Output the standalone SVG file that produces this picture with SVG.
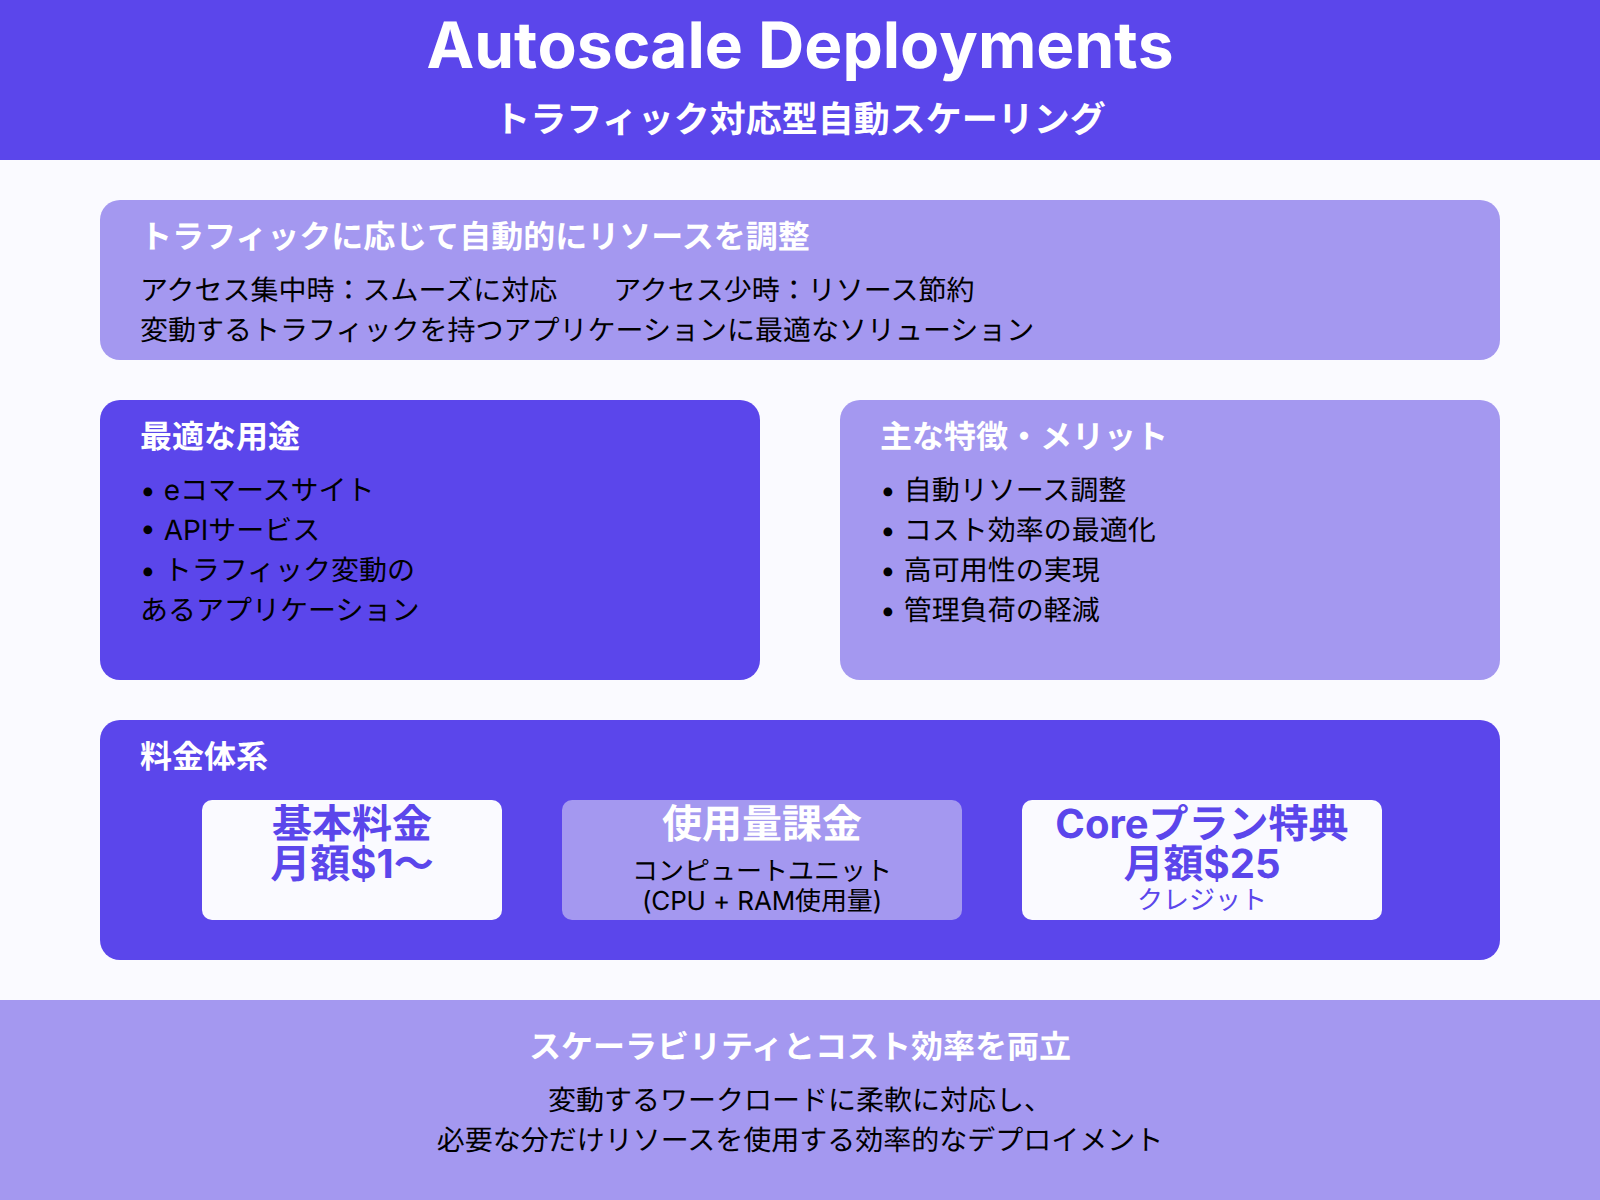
<svg xmlns="http://www.w3.org/2000/svg" width="1600" height="1200" viewBox="0 0 1600 1200">
<style>
text{font-family:Inter,"Noto Sans CJK JP",sans-serif;fill:#000;text-rendering:geometricPrecision}
.w{fill:#fff}.p{fill:#5b46eb}
.t{font-size:64px;font-weight:700;font-kerning:none}
.s{font-size:36px;font-weight:700}
.h{font-size:32px;font-weight:700}
.b{font-size:28px}
.n{font-size:26px}
.c{font-size:40px;font-weight:700}
.m{text-anchor:middle}
.dark{fill:#5b46eb}.light{fill:#a498f0}.pale{fill:#fafaff}
</style>
<rect width="1600" height="1200" class="pale"/>
<g id="header"><rect width="1600" height="160" class="dark"/>
<text class="t w m" x="800" y="68">Autoscale Deployments</text>
<text class="s w m" x="800" y="132">トラフィック対応型自動スケーリング</text></g>
<g id="overview"><rect x="100" y="200" width="1400" height="160" rx="20" class="light"/>
<text class="h w" x="140" y="248">トラフィックに応じて自動的にリソースを調整</text>
<text class="b" x="140" y="300" xml:space="preserve">アクセス集中時：スムーズに対応　　アクセス少時：リソース節約</text>
<text class="b" x="140" y="340">変動するトラフィックを持つアプリケーションに最適なソリューション</text></g>
<g id="usecases"><rect x="100" y="400" width="660" height="280" rx="20" class="dark"/>
<text class="h w" x="140" y="448">最適な用途</text>
<text class="b" x="140" y="500">• eコマースサイト</text>
<text class="b" x="140" y="540">• APIサービス</text>
<text class="b" x="140" y="580">• トラフィック変動の</text>
<text class="b" x="140" y="620">あるアプリケーション</text></g>
<g id="features"><rect x="840" y="400" width="660" height="280" rx="20" class="light"/>
<text class="h w" x="880" y="448">主な特徴・メリット</text>
<text class="b" x="880" y="500">• 自動リソース調整</text>
<text class="b" x="880" y="540">• コスト効率の最適化</text>
<text class="b" x="880" y="580">• 高可用性の実現</text>
<text class="b" x="880" y="620">• 管理負荷の軽減</text></g>
<g id="pricing"><rect x="100" y="720" width="1400" height="240" rx="20" class="dark"/>
<text class="h w" x="140" y="768">料金体系</text></g>
<g id="price-base"><rect x="202" y="800" width="300" height="120" rx="10" class="pale"/>
<text class="c p m" x="352" y="838">基本料金</text>
<text class="c p m" x="352" y="878">月額$1〜</text></g>
<g id="price-usage"><rect x="562" y="800" width="400" height="120" rx="10" class="light"/>
<text class="c w m" x="762" y="838">使用量課金</text>
<text class="n m" x="762" y="880">コンピュートユニット</text>
<text class="n m" x="762" y="910" letter-spacing="-0.12">(CPU + RAM使用量)</text></g>
<g id="price-core"><rect x="1022" y="800" width="360" height="120" rx="10" class="pale"/>
<text class="c p m" x="1202" y="838">Coreプラン特典</text>
<text class="c p m" x="1202" y="878">月額$25</text>
<text class="n p m" x="1202" y="909">クレジット</text></g>
<g id="footer"><rect y="1000" width="1600" height="200" class="light"/>
<text class="h w m" x="800" y="1058">スケーラビリティとコスト効率を両立</text>
<text class="b m" x="800" y="1110">変動するワークロードに柔軟に対応し、</text>
<text class="b m" x="800" y="1150">必要な分だけリソースを使用する効率的なデプロイメント</text></g>
</svg>
